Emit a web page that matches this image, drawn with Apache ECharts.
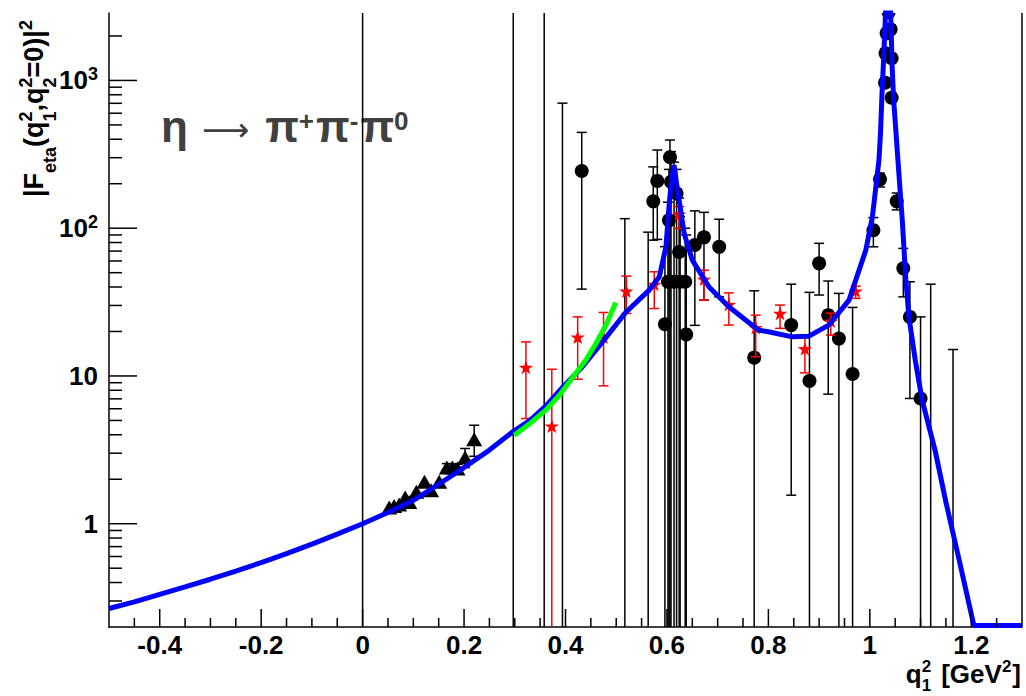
<!DOCTYPE html>
<html><head><meta charset="utf-8">
<script src="https://cdn.jsdelivr.net/npm/echarts@6/dist/echarts.min.js"></script>
<style>html,body{margin:0;padding:0;background:#fff}#c{width:1026px;height:696px}</style>
</head><body><div id="c"></div>
<script>
// ---------------- data ----------------
const xMajorTicks = [-0.4, -0.2, 0, 0.2, 0.4, 0.6, 0.8, 1.0, 1.2];
const yMajorTicks = [1, 10, 100, 1000];

// blue theory curve
const curveX = [-0.50,-0.45,-0.40,-0.35,-0.30,-0.25,-0.20,-0.15,-0.10,-0.05,0.00,0.05,0.10,0.15,0.20,0.25,0.296,0.33,0.361,0.394,0.433,0.473,0.519,0.565,0.585,0.598,0.604,0.609,0.614,0.619,0.624,0.634,0.650,0.683,0.722,0.755,0.781,0.80,0.847,0.880,0.919,0.959,0.992,1.005,1.018,1.021,1.024,1.028,1.031,1.036,1.041,1.044,1.047,1.054,1.061,1.064,1.071,1.077,1.090,1.103,1.129,1.150,1.176,1.205,1.30];
const curveY = [0.267,0.296,0.333,0.374,0.421,0.478,0.546,0.628,0.728,0.851,1.00,1.19,1.44,1.85,2.40,3.15,4.19,5.0,6.25,8.36,11.5,17.0,27.0,38.1,46.9,74.8,140,210,267,200,155,92,60.8,40,29.4,23.9,20.4,19.9,18.4,18.6,22.1,32.6,71,119,289,439,818,1607,2900,4200,2900,1239,737,338,155,113,45,25.1,12.5,6.9,3.1,1.4,0.57,0.205,0.205];

// green curve
const greenX = [0.299,0.33,0.361,0.388,0.42,0.44,0.46,0.48,0.499];
const greenY = [3.97,4.77,5.87,7.4,10.4,12.8,16.6,22.1,31.4];

// black circles with error bars
const circX  = [0.000,0.297,0.358,0.394,0.432,0.517,0.563,0.573,0.581,0.596,0.602,0.604,0.606,0.608,0.614,0.619,0.624,0.626,0.636,0.638,0.655,0.673,0.703,0.772,0.845,0.881,0.900,0.918,0.939,0.966,1.007,1.020,1.030,1.031,1.033,1.037,1.041,1.043,1.043,1.053,1.066,1.079,1.100,1.120,1.164];
const circY  = [0.1,0.1,0.1,0.1,244,0.1,0.1,152,209,22.4,43.4,113,302,206,43.4,172,69,43.4,43.4,19.1,76.9,86.7,74.8,13.3,22.1,9.27,57.8,25.8,17.9,10.3,97,214,966,1525,2083,2900,2218,1413,764,152,53.5,25.1,7.04,0.1,0.1];
const circLo = [0.01,0.01,0.01,0.01,38.7,0.01,0.01,83,84,0.01,0.01,0.01,0.01,0.01,0.01,0.01,0.01,0.01,0.01,0.01,22,32.6,34.3,0.01,1.56,0.01,35.3,7.53,0.01,0.01,74.8,190,900,1420,1950,2700,2080,1320,710,133,34.3,7.04,0.01,0.01,0.01];
const circHi = [1e5,1e5,1e5,702,445,116,94,260,338,75,150,250,395,330,280,250,160,120,100,90,131,128,115,37.7,41.8,36.8,79,43.9,36.2,29.1,118,236,1040,1640,2230,3100,2360,1510,820,173,73,43.4,25.1,41.8,15.1];

// black triangles
const triX  = [0.0525,0.062,0.072,0.084,0.092,0.106,0.122,0.135,0.151,0.166,0.177,0.187,0.202,0.220];
const triY  = [1.27,1.30,1.33,1.48,1.38,1.62,1.89,1.66,1.89,2.36,2.36,2.33,2.76,3.67];
const triLo = [1.27,1.30,1.33,1.48,1.38,1.62,1.89,1.66,1.89,2.25,2.25,2.22,2.40,2.86];
const triHi = [1.27,1.30,1.33,1.48,1.38,1.62,1.89,1.66,1.89,2.55,2.55,2.52,3.23,4.64];

// red stars
const starX  = [0.322,0.373,0.424,0.475,0.520,0.575,0.624,0.673,0.722,0.775,0.823,0.872,0.923,0.972];
const starY  = [11.3,4.52,18.1,18.1,37.1,41.2,123,44.6,30.1,21,26.2,15.1,23.2,37.1];
const starLo = [5.15,0.01,9.5,8.57,26.5,28.6,99.7,32.6,22.1,13.5,21,10.5,18.9,33.5];
const starHi = [17.0,11.1,25.1,26.9,47.4,50.7,140,52,36.5,25.8,30.2,18.2,26.6,40.5];

// ---------------- helpers ----------------
const FONT = "'Liberation Sans', Arial, Helvetica, sans-serif";
const mctx = document.createElement('canvas').getContext('2d');
function tw(s, size, w, f) { mctx.font = (w || 'bold') + ' ' + size + 'px ' + (f || FONT); return mctx.measureText(s).width; }
function runText(items, color) {
  let x = 0; const ch = [];
  items.forEach(it => {
    x += it.gap || 0;
    const w = tw(it.t, it.s, it.w, it.f);
    ch.push({type:'text', x: x, y: (it.dy || 0) - 0.35 * it.s, silent:true,
      style:{text: it.t, fontSize: it.s, fontWeight: it.w || 'bold', fontFamily: it.f || FONT, fill: color, align:'left', verticalAlign:'middle'}});
    if (!it.stack) x += w;
  });
  return {children: ch, width: x};
}

// minor ticks (axis decoration)
const xMinorTicks = [];
for (let v = -0.45; v < 1.3; v += 0.05) {
  const r = Math.round(v * 100) / 100;
  if (!xMajorTicks.some(m => Math.abs(m - r) < 1e-6)) xMinorTicks.push(r);
}
const yMinorTicks = [];
[0.1, 1, 10, 100, 1000].forEach(d => { for (let k = 2; k <= 9; k++) { const v = k * d; if (v > 0.2 && v < 2860) yMinorTicks.push(v); } });

function errSeries(xs, ys, los, his, color, marker) {
  return {
    type:'custom', silent:true, animation:false,
    data: xs.map((x, i) => [x, ys[i], los[i], his[i]]),
    renderItem(params, api) {
      const cs = params.coordSys;
      const top = cs.y, bot = cs.y + cs.height;
      const x = api.value(0), y = api.value(1), lo = api.value(2), hi = api.value(3);
      const p = api.coord([x, y]), pl = api.coord([x, lo]), ph = api.coord([x, hi]);
      const st = {stroke: color, lineWidth: 1.5};
      const ch = [];
      const y1 = Math.max(ph[1], top), y2 = Math.min(pl[1], bot);
      if (y2 - y1 > 0.5) {
        ch.push({type:'line', shape:{x1:p[0], y1:y1, x2:p[0], y2:y2}, style: st});
        if (ph[1] >= top) ch.push({type:'line', shape:{x1:p[0]-5, y1:ph[1], x2:p[0]+5, y2:ph[1]}, style: st});
        if (pl[1] <= bot) ch.push({type:'line', shape:{x1:p[0]-5, y1:pl[1], x2:p[0]+5, y2:pl[1]}, style: st});
      }
      const cx = p[0], cy = p[1];
      if (marker === 'circle') {
        ch.push({type:'circle', shape:{cx, cy, r:7}, style:{fill:'#000'}});
      } else if (marker === 'tri') {
        ch.push({type:'polygon', shape:{points:[[cx, cy-8],[cx-8, cy+6],[cx+8, cy+6]]}, style:{fill:'#000'}});
      } else {
        const pts = [];
        for (let k = 0; k < 10; k++) {
          const a = -Math.PI/2 + k * Math.PI/5; const r = k % 2 ? 3 : 7.5;
          pts.push([cx + r*Math.cos(a), cy + r*Math.sin(a)]);
        }
        ch.push({type:'polygon', shape:{points: pts}, style:{fill: color}});
      }
      return {type:'group', children: ch,
        clipPath:{type:'rect', shape:{x: cs.x, y: cs.y, width: cs.width, height: cs.height}}};
    }
  };
}

// ---------------- text blocks ----------------
const yTitle = runText([
  {t:'|F', s:27}, {t:'eta', s:18, dy:13}, {t:'(q', s:27},
  {t:'2', s:18, dy:-11, stack:true}, {t:'1', s:18, dy:13},
  {t:',q', s:27}, {t:'2', s:18, dy:-11, stack:true}, {t:'2', s:18, dy:13},
  {t:'=0)|', s:27}, {t:'2', s:18, dy:-11}
], '#000');
const xTitle = runText([
  {t:'q', s:26}, {t:'2', s:17, dy:-11, stack:true}, {t:'1', s:17, dy:8},
  {t:'[GeV', s:26, gap:10}, {t:'2', s:17, dy:-11}, {t:']', s:26, gap:1}
], '#000');
const annot = runText([
  {t:'η', s:44}, {t:'⟶', s:33, w:'normal', f:"'DejaVu Sans', sans-serif", gap:14, dy:-1}, {t:'π', s:44, gap:16},
  {t:'+', s:26, dy:-12}, {t:'π', s:44, gap:2}, {t:'-', s:26, dy:-12}, {t:'π', s:44, gap:2}, {t:'0', s:26, dy:-12}
], '#404040');

// ---------------- chart ----------------
const chart = echarts.init(document.getElementById('c'), null, {renderer:'svg', width:1026, height:696});
const option = {
  animation: false,
  backgroundColor: '#fff',
  textStyle: {fontFamily: FONT},
  grid: {left:109, right:4, top:13, bottom:69, containLabel:false, outerBoundsMode:'none'},
  xAxis: {
    type:'value', min:-0.5, max:1.3,
    axisLine:{show:true, onZero:false, lineStyle:{color:'#000', width:1.5}},
    axisTick:{show:false}, splitLine:{show:false}, minorTick:{show:false},
    axisLabel:{customValues: xMajorTicks, margin:8, lineHeight:20, fontSize:26, fontWeight:'bold', color:'#000', fontFamily:FONT,
      formatter: v => String(Math.round(v * 10) / 10)}
  },
  yAxis: {
    type:'log', logBase:10, min:0.2, max:2860,
    axisLine:{show:true, onZero:false, lineStyle:{color:'#000', width:1.5}},
    axisTick:{show:false}, splitLine:{show:false},
    axisLabel:{margin:11, showMinLabel:true, showMaxLabel:true,
      formatter: v => {
        const e = Math.log10(v), r = Math.round(e);
        if (Math.abs(e - r) > 1e-6 || !yMajorTicks.includes(Math.pow(10, r))) return '';
        if (r === 0) return '{m|1}';
        if (r === 1) return '{m|10}';
        return '{m|10}{s|' + r + '}';
      },
      rich:{
        m:{fontSize:26, fontWeight:'bold', fontFamily:FONT, color:'#000', lineHeight:30},
        s:{fontSize:18, fontWeight:'bold', fontFamily:FONT, color:'#000', verticalAlign:'top', lineHeight:18}
      }}
  },
  series: [
    {type:'line', name:'theory', data: curveX.map((x, i) => [x, curveY[i]]), symbol:'none', showSymbol:false,
     lineStyle:{color:'#0000ff', width:5}, clip:true, silent:true, z:2},
    {type:'line', name:'green', data: greenX.map((x, i) => [x, greenY[i]]), symbol:'none', showSymbol:false,
     lineStyle:{color:'#00ff00', width:5}, clip:true, silent:true, z:2},
    errSeries(circX, circY, circLo, circHi, '#000', 'circle'),
    errSeries(triX, triY, triLo, triHi, '#000', 'tri'),
    errSeries(starX, starY, starLo, starHi, '#ff0000', 'star'),
    {type:'custom', silent:true, z:5, data:[[0, 1]],
     renderItem(params, api) {
       const cs = params.coordSys;
       const left = cs.x, right = cs.x + cs.width, top = cs.y, bot = cs.y + cs.height;
       const st = {stroke:'#000', lineWidth:1.5};
       const ch = [];
       xMajorTicks.forEach(v => { const px = api.coord([v, 1])[0]; ch.push({type:'line', shape:{x1:px, y1:bot, x2:px, y2:bot-18}, style:st}); });
       xMinorTicks.forEach(v => { const px = api.coord([v, 1])[0]; ch.push({type:'line', shape:{x1:px, y1:bot, x2:px, y2:bot-9}, style:st}); });
       yMajorTicks.forEach(v => { const py = api.coord([-0.5, v])[1]; ch.push({type:'line', shape:{x1:left, y1:py, x2:left+28, y2:py}, style:st}); });
       yMinorTicks.forEach(v => { const py = api.coord([-0.5, v])[1]; ch.push({type:'line', shape:{x1:left, y1:py, x2:left+13, y2:py}, style:st}); });
       ch.push({type:'line', shape:{x1:right, y1:top, x2:right, y2:bot}, style:st});
       return {type:'group', children: ch};
     }}
  ],
  graphic: [
    {type:'group', x:43, y:197, rotation: Math.PI / 2, children: yTitle.children},
    {type:'group', x:1021 - xTitle.width, y:683, children: xTitle.children},
    {type:'group', x:161, y:142, children: annot.children}
  ]
};
chart.setOption(option);
</script>
</body></html>
